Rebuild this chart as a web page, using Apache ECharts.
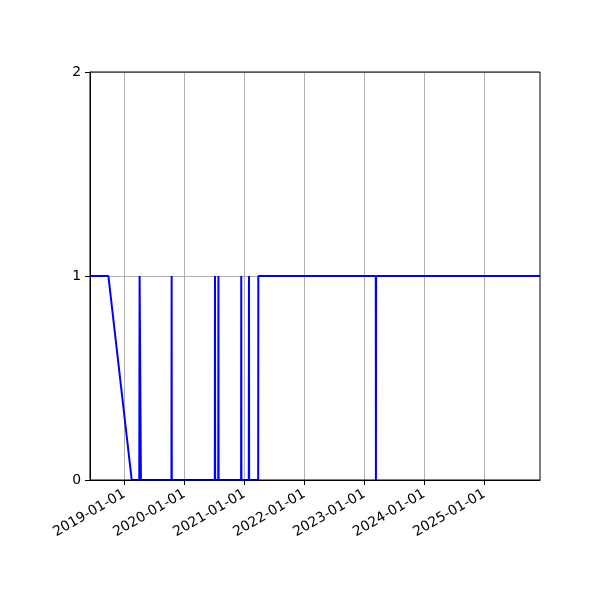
<!DOCTYPE html>
<html>
<head>
<meta charset="utf-8">
<script src="https://cdn.jsdelivr.net/npm/echarts@6/dist/echarts.min.js"></script>
<style>html,body{margin:0;padding:0;background:#fff}#c{width:600px;height:600px}</style>
</head>
<body>
<div id="c"></div>
<script>
const dates = [
  '2018-06-06','2018-09-26','2019-02-15',
  '2019-04-02','2019-04-04','2019-04-10','2019-04-12',
  '2019-10-15','2019-10-16','2019-10-17',
  '2020-07-05','2020-07-06','2020-07-07',
  '2020-07-26','2020-07-27','2020-07-28',
  '2020-12-12','2020-12-13','2020-12-14',
  '2021-01-28','2021-01-29','2021-01-30',
  '2021-03-26','2021-03-27',
  '2023-03-12','2023-03-13','2023-03-14',
  '2025-12-06'
];
const values = [
  1,1,0,
  0,1,1,0,
  0,1,0,
  0,1,0,
  0,1,0,
  0,1,0,
  0,1,0,
  0,1,
  1,0,1,
  1
];
const yearTicks = ['2019-01-01','2020-01-01','2021-01-01','2022-01-01','2023-01-01','2024-01-01','2025-01-01'];
const xMin = '2018-06-06';
const xMax = '2025-12-06';
const yTicks = [0, 1, 2];

const toTs = s => { const p = s.split('-').map(Number); return Date.UTC(p[0], p[1]-1, p[2]); };
const seriesData = dates.map((d, i) => [toTs(d), values[i]]);
const tickTs = yearTicks.map(toTs);
const pad = n => String(n).padStart(2, '0');
const fmt = v => { const d = new Date(v); return d.getUTCFullYear() + '-' + pad(d.getUTCMonth()+1) + '-' + pad(d.getUTCDate()); };

const font = 'DejaVu Sans';
const chart = echarts.init(document.getElementById('c'), null, {renderer: 'canvas'});
chart.setOption({
  animation: false,
  backgroundColor: '#fff',
  grid: {left: 90, right: 60, top: 72, bottom: 120, show: true, borderColor: '#000', borderWidth: 1, backgroundColor: 'transparent', z: 5},
  xAxis: {
    type: 'value',
    min: toTs(xMin), max: toTs(xMax),
    z: 0,
    axisLine: {show: true, lineStyle: {color: '#000', width: 1}},
    axisTick: {show: true, length: 5, lineStyle: {color: '#000'}, customValues: tickTs},
    axisLabel: {customValues: tickTs, formatter: v => fmt(v), rotate: 30, margin: 13, color: '#000', fontFamily: font, fontSize: 13.9},
    splitLine: {show: false}
  },
  yAxis: {
    type: 'value', min: 0, max: 2, interval: 1,
    z: 0,
    axisLine: {show: true, lineStyle: {color: '#000', width: 1}},
    axisTick: {show: true, length: 5, lineStyle: {color: '#000'}},
    axisLabel: {color: '#000', fontFamily: font, fontSize: 13.9, margin: 9, formatter: v => yTicks.includes(v) ? String(v) : ''},
    splitLine: {show: true, lineStyle: {color: '#b0b0b0', width: 1}}
  },
  series: [{
    type: 'line',
    data: seriesData,
    showSymbol: false,
    lineStyle: {color: '#0000ff', width: 2},
    itemStyle: {color: '#0000ff'},
    z: 2,
    markLine: {
      silent: true, symbol: 'none', label: {show: false},
      lineStyle: {color: '#b0b0b0', width: 1, type: 'solid'},
      z: 1,
      data: tickTs.map(t => ({xAxis: t}))
    }
  }]
});
</script>
</body>
</html>
